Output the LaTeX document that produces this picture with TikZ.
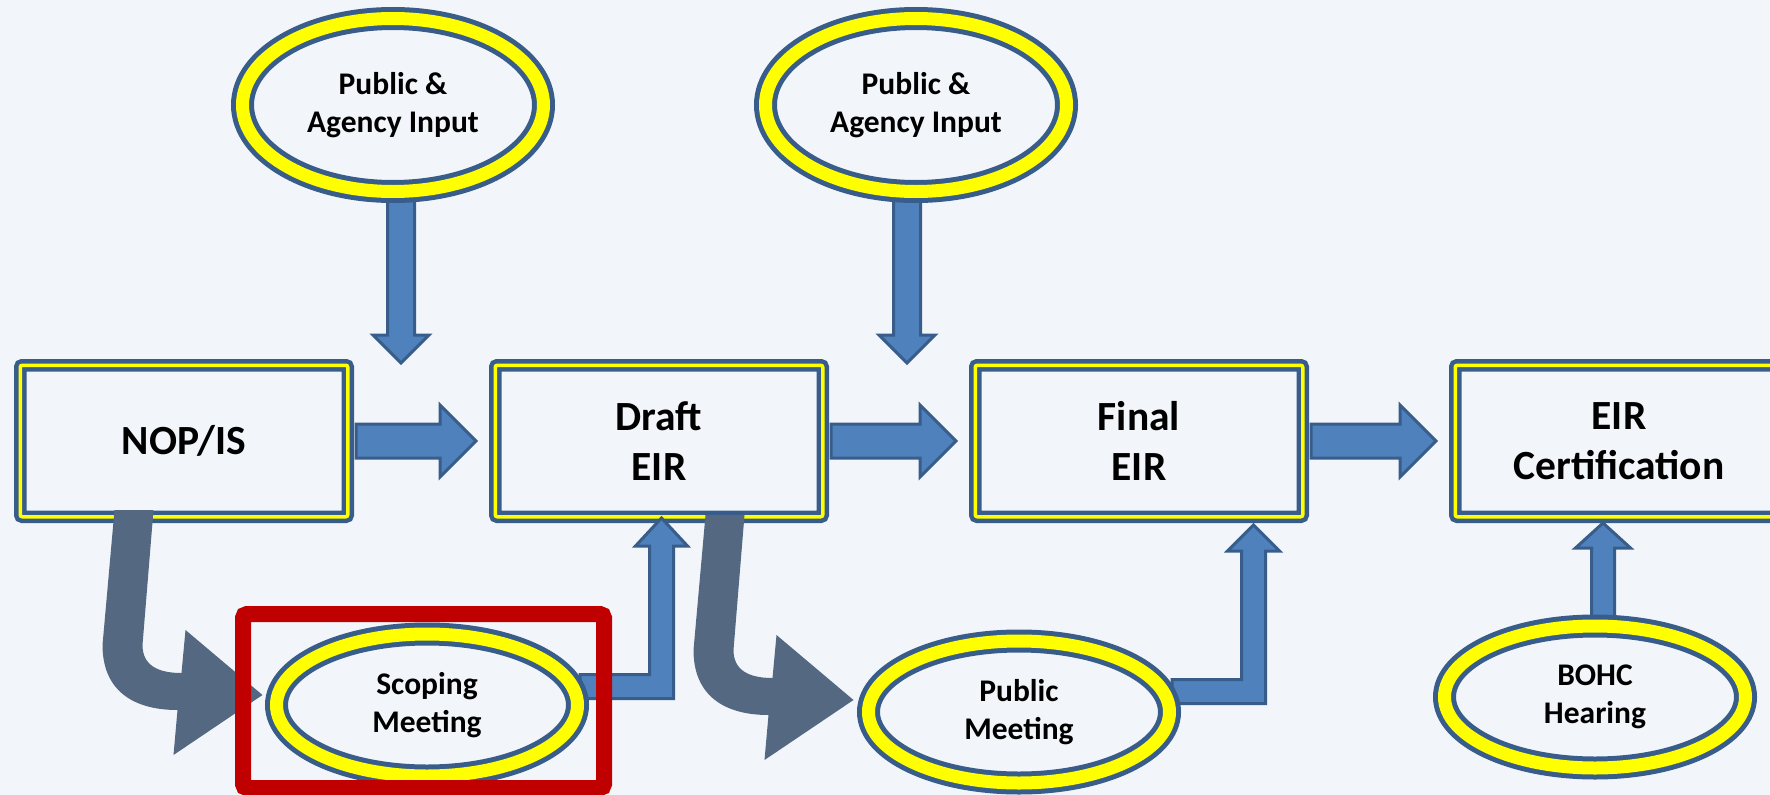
\documentclass[tikz,border=0pt]{standalone}
\usepackage{fontspec}
\setmainfont{Carlito}
\usetikzlibrary{shapes.geometric,calc}
\definecolor{bgc}{RGB}{242,246,250}
\definecolor{bord}{RGB}{56,93,138}
\definecolor{afill}{RGB}{79,129,189}
\definecolor{yel}{RGB}{255,255,0}
\definecolor{darkarrow}{RGB}{84,105,129}
\definecolor{hlred}{RGB}{192,0,0}
\pgfdeclarelayer{background}
\pgfdeclarelayer{boxes}
\pgfdeclarelayer{arrows}
\pgfdeclarelayer{front}
\pgfsetlayers{background,boxes,arrows,main,front}
\begin{document}
\begin{tikzpicture}[x=1pt,y=-1pt,
  stepbox/.style={rectangle, draw=bord, line width=4.5pt, double=yel, double distance=3.5pt,
    fill=bgc, minimum width=327.5pt, minimum height=151.5pt, inner sep=0pt, align=center,
    rounded corners=2pt, font=\fontsize{41.5pt}{50pt}\selectfont\bfseries},
  oval/.style={ellipse, draw=bord, line width=5pt, double=yel, double distance=13pt,
    fill=bgc, inner sep=0pt, align=center, font=\fontsize{31.5pt}{38pt}\selectfont\bfseries},
  topoval/.style={oval, minimum width=301pt, minimum height=173pt},
  lowoval/.style={oval, minimum width=301pt, minimum height=142pt},
  barrow/.style={fill=afill, draw=bord, line width=3pt, line join=miter},
  curvarrow/.pic={\fill[darkarrow] (-148,-185) -- (-109,-185) -- (-120,-50)
      .. controls (-120,-30) and (-105,-22) .. (-81,-22) -- (-77,-65) -- (0,0)
      -- (-89,60) -- (-85,15) .. controls (-130,15) and (-160,-5) .. (-160,-50) -- cycle;},
]
\useasboundingbox (0,0) rectangle (1770,795);
\begin{pgfonlayer}{background}
  \fill[bgc] (0,0) rectangle (1770,795);
\end{pgfonlayer}

% process boxes
\begin{pgfonlayer}{boxes}
  \node[stepbox] (nop)   at (184,441)  {NOP/IS};
  \node[stepbox] (draft) at (659,441)  {Draft\\EIR};
  \node[stepbox] (final) at (1139,441) {Final\\EIR};
  \node[stepbox] (cert)  at (1619,441) {EIR\\Certification};
\end{pgfonlayer}

% ellipses
\node[topoval] (in1)   at (393,105)  {Public \&\\Agency Input};
\node[topoval] (in2)   at (916,105)  {Public \&\\Agency Input};
\node[lowoval] (scope) at (427,705)  {Scoping\\Meeting};
\node[lowoval] (pubm)  at (1019,712) {Public\\Meeting};
\node[lowoval] (bohc)  at (1595,697) {BOHC\\Hearing};

% arrow end points
\coordinate (t1) at (401,363);
\coordinate (t2) at (907,363);
\coordinate (t3) at (661.5,518);
\coordinate (t4) at (1253.5,525);
\coordinate (t5) at (1603,523);

\begin{pgfonlayer}{arrows}
  % horizontal block arrows
  \draw[barrow] let \p1=($(nop.east)+(6,0)$), \p2=($(draft.west)+(-17,0)$) in
    (\x1,\y1+17pt) -- (\x2-36pt,\y1+17pt) -- (\x2-36pt,\y1+36pt) -- (\x2,\y1)
    -- (\x2-36pt,\y1-36pt) -- (\x2-36pt,\y1-17pt) -- (\x1,\y1-17pt) -- cycle;
  \draw[barrow] let \p1=($(draft.east)+(6,0)$), \p2=($(final.west)+(-17,0)$) in
    (\x1,\y1+17pt) -- (\x2-36pt,\y1+17pt) -- (\x2-36pt,\y1+36pt) -- (\x2,\y1)
    -- (\x2-36pt,\y1-36pt) -- (\x2-36pt,\y1-17pt) -- (\x1,\y1-17pt) -- cycle;
  \draw[barrow] let \p1=($(final.east)+(6,0)$), \p2=($(cert.west)+(-17,0)$) in
    (\x1,\y1+17pt) -- (\x2-36pt,\y1+17pt) -- (\x2-36pt,\y1+36pt) -- (\x2,\y1)
    -- (\x2-36pt,\y1-36pt) -- (\x2-36pt,\y1-17pt) -- (\x1,\y1-17pt) -- cycle;
  % vertical arrows from the input ellipses
  \draw[barrow] let \p1=(in1.south), \p2=(t1) in
    (\x2-13.5pt,\y1) -- (\x2-13.5pt,\y2+28pt) -- (\x2-28pt,\y2+28pt) -- (\x2,\y2)
    -- (\x2+28pt,\y2+28pt) -- (\x2+13.5pt,\y2+28pt) -- (\x2+13.5pt,\y1) -- cycle;
  \draw[barrow] let \p1=(in2.south), \p2=(t2) in
    (\x2-13.5pt,\y1) -- (\x2-13.5pt,\y2+28pt) -- (\x2-28pt,\y2+28pt) -- (\x2,\y2)
    -- (\x2+28pt,\y2+28pt) -- (\x2+13.5pt,\y2+28pt) -- (\x2+13.5pt,\y1) -- cycle;
  % elbow arrows
  \draw[barrow] let \p1=(scope.east), \p2=(t3) in
    (\x1,\y1+30.5pt) -- (\x2-12pt,\y1+30.5pt) -- (\x2-12pt,\y2-28pt) -- (\x2-26pt,\y2-28pt)
    -- (\x2,\y2) -- (\x2+26pt,\y2-28pt) -- (\x2+12pt,\y2-28pt) -- (\x2+12pt,\y1+6.5pt)
    -- (\x1,\y1+6.5pt) -- cycle;
  \draw[barrow] let \p1=(pubm.east), \p2=(t4) in
    (\x1,\y1+32.5pt) -- (\x2-12pt,\y1+32.5pt) -- (\x2-12pt,\y2-26pt) -- (\x2-26pt,\y2-26pt)
    -- (\x2,\y2) -- (\x2+26pt,\y2-26pt) -- (\x2+12pt,\y2-26pt) -- (\x2+12pt,\y1+8.5pt)
    -- (\x1,\y1+8.5pt) -- cycle;
  % BOHC up arrow
  \draw[barrow] let \p1=(bohc.north), \p2=(t5) in
    (\x2-11.5pt,\y1) -- (\x2-11.5pt,\y2-25pt) -- (\x2-27.5pt,\y2-25pt) -- (\x2,\y2)
    -- (\x2+27.5pt,\y2-25pt) -- (\x2+11.5pt,\y2-25pt) -- (\x2+11.5pt,\y1) -- cycle;
  % curved dark arrows
  \pic at ($(scope.west)+(-11.5,-10)$) {curvarrow};
  \pic at ($(pubm.west)+(-12.5,-12)$) {curvarrow};
\end{pgfonlayer}

% highlight frame
\begin{pgfonlayer}{front}
  \node[draw=hlred, line width=16pt, rounded corners=4pt, minimum width=361pt,
    minimum height=174pt, inner sep=0pt] (hl) at (423.5,701) {};
\end{pgfonlayer}
\end{tikzpicture}
\end{document}
